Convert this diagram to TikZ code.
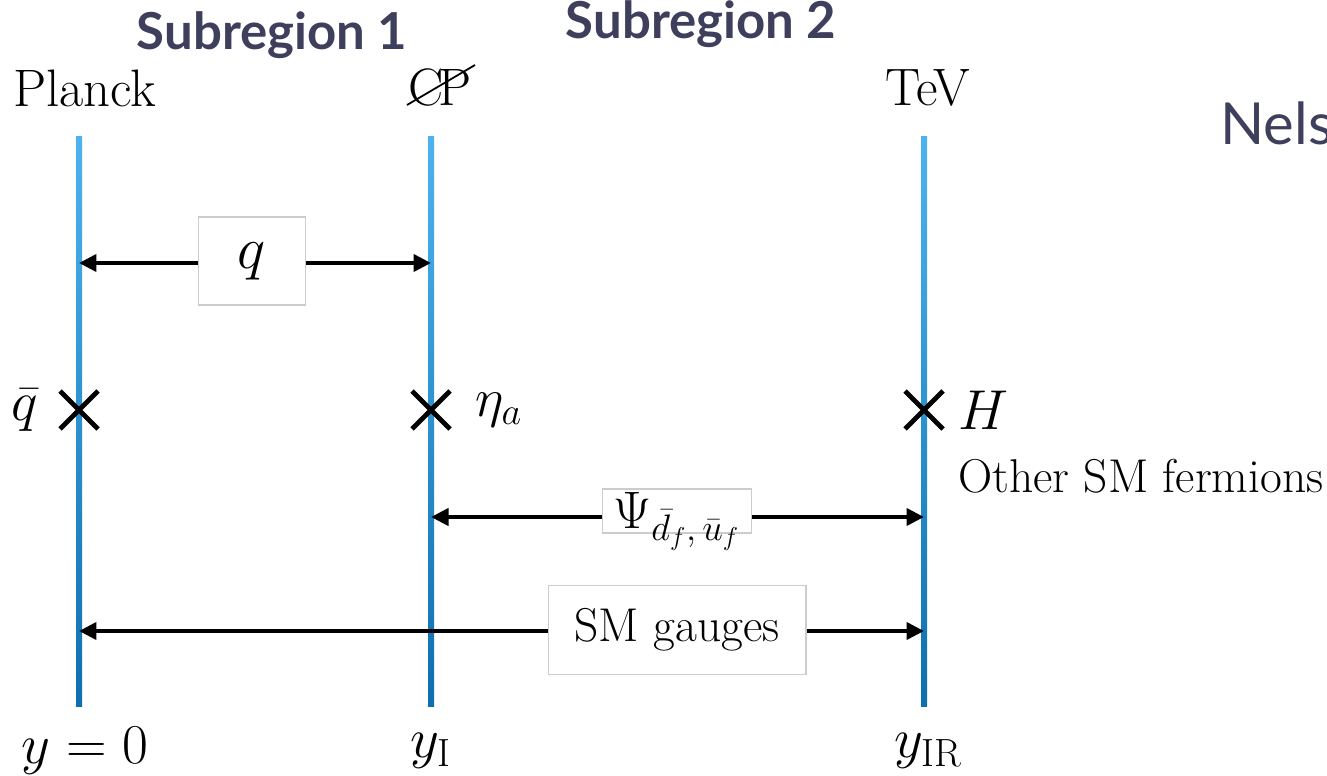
\RequirePackage{fix-cm}
\documentclass[tikz,border=0pt]{standalone}
\usepackage{fontspec}
\usetikzlibrary{arrows.meta}
\newfontfamily\slidefont{Lato}
\definecolor{branetop}{HTML}{4DB3EE}
\definecolor{branebot}{HTML}{0E6FAE}
\definecolor{slidenavy}{HTML}{3D3F5C}
\newcommand{\fs}[1]{\fontsize{#1}{#1}\selectfont}
\tikzset{
    txt/.style={inner sep=0pt, font=\fs{30}},
    heading/.style={inner sep=0pt, text=slidenavy, font=\slidefont\bfseries\fs{29}},
    tag/.style={draw=black!20, fill=white, line width=0.6pt, inner sep=0pt, font=\fs{27}},
    link/.style={-{Triangle[length=0.35cm,width=0.34cm]}, line width=2.3pt},
    crossmark/.style={line width=2.8pt}
}

\begin{document}
\begin{tikzpicture}[x=0.02cm, y=-0.02cm]
    \useasboundingbox (0,0) rectangle (1327,776);
    \clip (0,0) rectangle (1327,776);
    % branes
    \foreach \bx in {79,431,924}
        \shade[top color=branetop, bottom color=branebot] (\bx-3,137) rectangle (\bx+3,706);
    \coordinate (uv-q) at (79,263);
    \coordinate (mid-q) at (431,263);
    \coordinate (mid-psi) at (431,517);
    \coordinate (ir-psi) at (924,517);
    \coordinate (uv-sm) at (79,631);
    \coordinate (ir-sm) at (924,631);

    \node[heading] (sub1) at (272,35) {Subregion 1};
    \node[heading] (sub2) at (701,24) {Subregion 2};
    \node[heading, font=\slidefont\fs{33}, anchor=base west] (nels) at (1220,145) {Nels};

    \node[txt] (planck) at (85,88) {Planck};
    \node[txt] (cp) at (440,88) {C\kern-3pt P};
    \draw[line width=1pt] ([shift={(-33,17)}]cp.center) -- ([shift={(35,-23)}]cp.center);
    \node[txt] (tev) at (928,88) {TeV};

    % localized fields
    \foreach \bx in {79,431,924}
        \draw[crossmark] (\bx-19,391) -- (\bx+19,429) (\bx-19,429) -- (\bx+19,391);
    \node[txt, font=\fs{32}] (qbar) at (25,410) {$\bar q$};
    \node[txt, font=\fs{31}, anchor=west] (eta) at (475,410) {$\eta_a$};
    \node[txt, font=\fs{32}, anchor=west] (higgs) at (958,410) {$H$};
    \node[txt, font=\fs{27}, anchor=west] (others) at (958,476) {Other SM fermions};

    % bulk fields
    \node[tag, minimum width=2.14cm, minimum height=1.76cm, font=\fs{34}] (qbox) at (252,261) {$q$};
    \draw[link] (qbox.west |- uv-q) -- (uv-q);
    \draw[link] (qbox.east |- mid-q) -- (mid-q);
    \node[tag, minimum width=2.98cm, minimum height=0.88cm] (psibox) at (677,511) {};
    \node[txt, font=\fs{30}, anchor=base west] (psi) at (613,528)
        {$\Psi_{\mbox{\fs{21}$\bar d_f,\bar u_f$}}$};
    \draw[link] (psibox.west |- mid-psi) -- (mid-psi);
    \draw[link] (psibox.east |- ir-psi) -- (ir-psi);
    \node[tag, minimum width=5.16cm, minimum height=1.78cm] (smbox) at (677,630) {SM gauges};
    \draw[link] (smbox.west |- uv-sm) -- (uv-sm);
    \draw[link] (smbox.east |- ir-sm) -- (ir-sm);

    \node[txt, font=\fs{32}] (y0) at (85,751) {$y=0$};
    \node[txt, font=\fs{32}] (yi) at (431,751) {$y_{\mathrm{I}}$};
    \node[txt, font=\fs{32}] (yir) at (928,751) {$y_{\mathrm{IR}}$};
\end{tikzpicture}
\end{document}
